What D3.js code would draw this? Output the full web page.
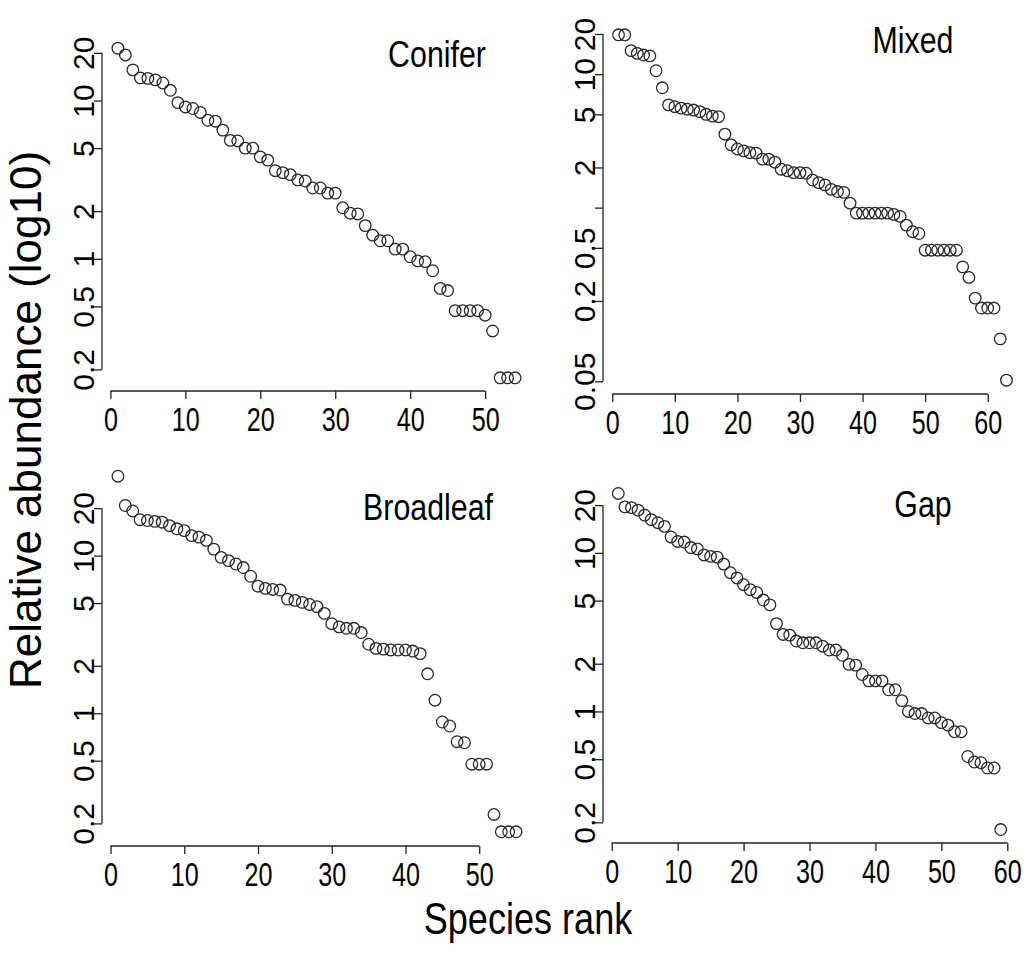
<!DOCTYPE html>
<html>
<head>
<meta charset="utf-8">
<script src="https://cdnjs.cloudflare.com/ajax/libs/d3/7.8.5/d3.min.js"></script>
<style>
  body { margin: 0; background: #fff; }
  svg text { font-family: "Liberation Sans", Arial, sans-serif; fill: #000; }
</style>
</head>
<body>
<div id="chart"></div>
<script>
"use strict";

// relative abundance, sorted by species rank (rank = index + 1)
var conifer = [21.4, 19.4, 15.6, 13.9, 13.8, 13.5, 12.9, 11.6, 9.7, 9.1,
	8.9, 8.4, 7.5, 7.4, 6.5, 5.6, 5.55, 5.0, 5.0, 4.4,
	4.2, 3.6, 3.5, 3.4, 3.15, 3.1, 2.8, 2.8, 2.6, 2.6,
	2.1, 1.94, 1.92, 1.62, 1.41, 1.30, 1.30, 1.15, 1.15, 1.03,
	0.97, 0.96, 0.84, 0.65, 0.63, 0.47, 0.47, 0.47, 0.47, 0.44,
	0.35, 0.177, 0.177, 0.177];
var mixed = [19.7, 19.7, 15.0, 14.3, 13.9, 13.7, 10.6, 7.9, 5.88, 5.7,
	5.56, 5.46, 5.38, 5.24, 5.0, 4.85, 4.8, 3.55, 2.95, 2.75,
	2.66, 2.58, 2.56, 2.31, 2.31, 2.19, 1.94, 1.89, 1.83, 1.83,
	1.81, 1.61, 1.54, 1.48, 1.37, 1.32, 1.30, 1.08, 0.91, 0.91,
	0.91, 0.91, 0.91, 0.91, 0.89, 0.86, 0.74, 0.66, 0.64, 0.48,
	0.48, 0.48, 0.48, 0.48, 0.48, 0.36, 0.30, 0.21, 0.177, 0.177,
	0.177, 0.104, 0.051];
var broadleaf = [31.9, 20.8, 19.2, 16.9, 16.7, 16.5, 16.3, 15.5, 14.8, 14.4,
	13.4, 13.1, 12.5, 11.0, 9.75, 9.3, 8.85, 8.4, 7.4, 6.4,
	6.2, 6.1, 6.05, 5.3, 5.2, 5.05, 4.9, 4.75, 4.3, 3.7,
	3.53, 3.46, 3.46, 3.25, 2.74, 2.58, 2.55, 2.52, 2.52, 2.52,
	2.48, 2.39, 1.78, 1.21, 0.88, 0.83, 0.66, 0.65, 0.475, 0.475,
	0.475, 0.228, 0.177, 0.177, 0.177];
var gap = [23.7, 19.5, 19.3, 18.6, 17.3, 16.2, 15.5, 14.7, 12.6, 11.8,
	11.7, 10.8, 10.6, 9.7, 9.5, 9.4, 8.5, 7.5, 6.95, 6.3,
	5.86, 5.63, 5.04, 4.7, 3.58, 3.06, 3.03, 2.78, 2.71, 2.71,
	2.71, 2.58, 2.44, 2.44, 2.26, 1.98, 1.96, 1.71, 1.56, 1.56,
	1.56, 1.37, 1.37, 1.17, 1.0, 0.97, 0.97, 0.91, 0.91, 0.85,
	0.82, 0.745, 0.745, 0.52, 0.48, 0.475, 0.44, 0.44, 0.18];

var panelNames = ["Conifer", "Mixed", "Broadleaf", "Gap"];
var xTicks50 = [0, 10, 20, 30, 40, 50];
var xTicks60 = [0, 10, 20, 30, 40, 50, 60];
var yTicks = [20, 10, 5, 2, 1, 0.5, 0.2];
var yTicksMixed = [20, 10, 5, 2, 1, 0.5, 0.2, 0.05];
var yLabelsMixed = ["20", "10", "5", "2", "", "0.5", "0.2", "0.05"];

var W = 1026, H = 953;
var squeeze = 0.82;     // the original lettering is condensed
var tickSqueeze = 0.74;

// plot regions (R style, 4% padding on every side)
var panels = [
	{ name: panelNames[0], values: conifer, xt: xTicks50, yt: yTicks, yl: null,
		left: 102, right: 531, top: 35, bottom: 391, tx: 437, ty: 67 },
	{ name: panelNames[1], values: mixed, xt: xTicks60, yt: yTicksMixed, yl: yLabelsMixed,
		left: 603, right: 1022, top: 21, bottom: 394, tx: 913, ty: 53 },
	{ name: panelNames[2], values: broadleaf, xt: xTicks50, yt: yTicks, yl: null,
		left: 102, right: 532, top: 462, bottom: 846, tx: 428, ty: 520 },
	{ name: panelNames[3], values: gap, xt: xTicks60, yt: yTicks, yl: null,
		left: 603, right: 1016, top: 480, bottom: 843, tx: 923, ty: 517 }
];

var svg = d3.select("#chart").append("svg")
	.attr("width", W)
	.attr("height", H);

panels.forEach(function (p) {
	var n = p.values.length;
	var padX = 0.04 * (n - 1);
	var x = d3.scaleLinear()
		.domain([1 - padX, n + padX])
		.range([p.left, p.right]);

	var lmin = Math.log10(d3.min(p.values)), lmax = Math.log10(d3.max(p.values));
	var padY = 0.04 * (lmax - lmin);
	var y = d3.scaleLog()
		.domain([Math.pow(10, lmin - padY), Math.pow(10, lmax + padY)])
		.range([p.bottom, p.top]);

	var g = svg.append("g");

	// x axis, line only between first and last tick like R
	var gx = g.append("g")
		.attr("transform", "translate(0," + p.bottom + ")")
		.call(d3.axisBottom(x).tickValues(p.xt).tickSizeOuter(0).tickSize(8));
	gx.select(".domain")
		.attr("d", "M" + x(p.xt[0]) + ",0H" + x(p.xt[p.xt.length - 1]));
	gx.selectAll("text")
		.attr("y", null)
		.attr("dy", null)
		.attr("transform", "translate(0,40) scale(" + tickSqueeze + ",1)")
		.style("font-size", "34px");

	var gy = g.append("g")
		.attr("transform", "translate(" + p.left + ",0)")
		.call(d3.axisLeft(y).tickValues(p.yt).tickSizeOuter(0).tickSize(8)
			.tickFormat(function (d, i) { return p.yl ? p.yl[i] : d3.format("~g")(d); }));
	gy.select(".domain")
		.attr("d", "M0," + y(p.yt[0]) + "V" + y(p.yt[p.yt.length - 1]));
	gy.selectAll("text")
		.attr("x", null)
		.attr("dy", null)
		.attr("text-anchor", "middle")
		.attr("transform", "translate(-8,0) rotate(-90)")
		.style("font-size", "30px");

	g.selectAll(".domain, .tick line")
		.attr("stroke", "#222")
		.attr("stroke-width", 1.3);

	g.selectAll("circle")
		.data(p.values)
		.enter()
		.append("circle")
		.attr("cx", function (d, i) { return x(i + 1); })
		.attr("cy", function (d) { return y(d); })
		.attr("r", 5.8)
		.attr("fill", "none")
		.attr("stroke", "#2a2a2a")
		.attr("stroke-width", 1.3);

	g.append("text")
		.attr("text-anchor", "middle")
		.attr("transform", "translate(" + p.tx + "," + p.ty + ") scale(" + squeeze + ",1)")
		.style("font-size", "37px")
		.text(p.name);
});

svg.append("text")
	.attr("text-anchor", "middle")
	.attr("transform", "translate(41,420) rotate(-90)")
	.style("font-size", "44px")
	.text("Relative abundance (log10)");

svg.append("text")
	.attr("text-anchor", "middle")
	.attr("transform", "translate(528,934) scale(" + squeeze + ",1)")
	.style("font-size", "44px")
	.text("Species rank");
</script>
</body>
</html>
